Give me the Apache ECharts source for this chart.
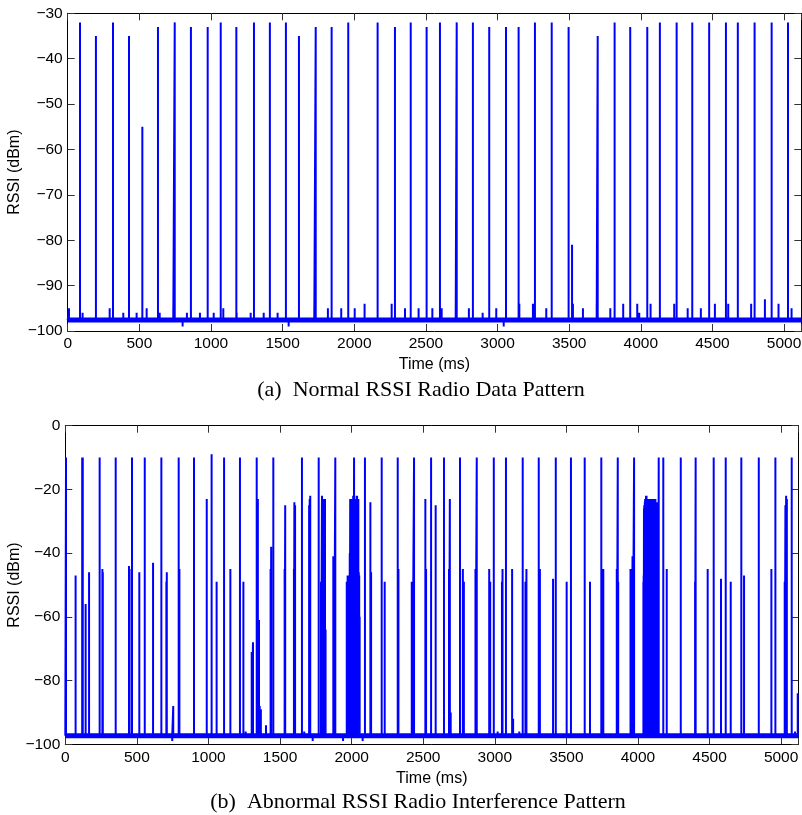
<!DOCTYPE html>
<html><head><meta charset="utf-8">
<script src="https://cdn.jsdelivr.net/npm/echarts@6/dist/echarts.min.js"></script>
<style>html,body{margin:0;padding:0;background:#fff}#c{width:802px;height:815px}</style>
</head><body><div id="c"></div>
<script>
// ---------- axes ----------
const xMax = 5120, xInterval = 500;
const yRangeA = [-100, -30], yIntervalA = 10;
const yRangeB = [-100, 0], yIntervalB = 20;
const xName = 'Time (ms)', yName = 'RSSI (dBm)';
const captionA = '(a)  Normal RSSI Radio Data Pattern';
const captionB = '(b)  Abnormal RSSI Radio Interference Pattern';

// noise floor (thick band) bounds
const bandA = [-97.0, -98.2];
const bandB = [-96.5, -98.1];

// ---------- (a) normal pattern ----------
const spikeTimesA = [86,197,316,428,521,630,747,860,977,1068,1177,1300,1411,1523,1614,1731,1842,1958,2163,2284,2394,2505,2598,2715,2828,2942,3059,3147,3261,3378,3496,3520,3699,3817,3926,4045,4133,4250,4359,4477,4594,4677,4794,4913,5027];
const spikePeaksA = [-32,-35,-32,-35,-55,-33,-32,-33,-33,-32,-33,-32,-32,-32,-35,-33,-33,-32,-32,-33,-32,-33,-32,-32,-32,-33,-33,-33,-32,-32,-33,-81,-35,-32,-33,-33,-32,-32,-32,-32,-32,-32,-32,-32,-32];
const blipTimesA = [9,104,293,388,481,551,642,737,802,832,923,1019,1086,1179,1277,1368,1465,1542,1721,1816,1909,2003,2072,2261,2354,2449,2545,2610,2708,2800,2896,2991,3043,3152,3247,3340,3526,3596,3692,3787,3877,3975,3989,4068,4233,4327,4419,4517,4610,4770,4866,4961,5052];
const blipPeaksA = [-95,-96,-95,-96,-96,-95,-96,-95,-99,-96,-96,-96,-95,-96,-96,-96,-96,-99,-95,-95,-95,-95,-94,-94,-95,-95,-95,-95,-95,-95,-96,-95,-99,-94,-94,-95,-94,-95,-94,-95,-94,-94,-96,-94,-94,-95,-95,-94,-94,-94,-93,-94,-95];

// ---------- (b) interference pattern ----------
const spikeTimesB = [5,72,118,122,142,166,240,259,262,352,445,449,466,517,555,613,671,706,709,747,754,792,797,899,988,1022,1057,1109,1153,1220,1244,1260,1302,1311,1337,1340,1345,1353,1358,1366,1402,1434,1438,1453,1532,1536,1597,1600,1605,1653,1669,1703,1707,1711,1728,1770,1786,1793,1800,1807,1814,1818,1872,1877,1886,1940,2077,2093,2131,2136,2210,2231,2322,2327,2420,2424,2436,2515,2520,2555,2587,2645,2680,2686,2692,2757,2777,2784,2865,2874,2961,2968,2993,3020,3050,3054,3078,3121,3128,3171,3195,3214,3221,3307,3315,3407,3426,3502,3532,3628,3665,3744,3758,3852,3859,3862,3948,3955,3962,3973,4145,4177,4201,4299,4399,4403,4487,4529,4580,4613,4648,4722,4741,4844,4932,4960,5025,5030,5035,5040,5074,5097,5116];
const spikePeaksB = [-10,-47,-10,-10,-56,-46,-10,-45,-46,-10,-44,-45,-10,-46,-10,-43,-10,-49,-46,-99,-88,-10,-45,-10,-23,-9,-49,-10,-45,-10,-49,-96,-71,-68,-10,-23,-23,-61,-88,-89,-94,-45,-38,-10,-45,-25,-45,-24,-25,-10,-96,-25,-23,-22,-99,-10,-49,-22,-23,-25,-23,-64,-41,-46,-10,-99,-99,-10,-24,-46,-10,-49,-10,-45,-49,-49,-10,-23,-45,-10,-25,-10,-45,-23,-90,-10,-45,-49,-45,-10,-45,-49,-10,-96,-49,-45,-10,-45,-92,-96,-10,-49,-45,-10,-45,-48,-10,-49,-10,-10,-49,-10,-45,-45,-10,-49,-45,-45,-41,-10,-10,-10,-45,-10,-49,-10,-45,-10,-48,-10,-49,-10,-47,-10,-45,-10,-49,-25,-22,-23,-10,-96,-84];
// dense interference bursts
const burst1TimesB = [1966,1969,1972,1975,1978,1981,1984,1987,1990,1993,1996,1999,2002,2005,2008,2011,2014,2017,2020,2023,2026,2029,2032,2035,2038,2041,2044,2047,2050,2053,2056];
const burst1PeaksB = [-49,-55,-47,-60,-47,-61,-50,-40,-23,-30,-38,-23,-23,-25,-23,-22,-35,-10,-23,-23,-40,-38,-23,-22,-22,-23,-25,-23,-46,-47,-60];
const burst2TimesB = [4038,4040,4042,4044,4046,4048,4050,4052,4054,4056,4058,4060,4062,4064,4066,4068,4070,4072,4074,4076,4078,4080,4082,4084,4086,4088,4090,4092,4094,4096,4098,4100,4102,4104,4106,4108,4110,4112,4114,4116,4118,4120,4122,4124,4126,4128,4130,4132,4134,4136,4138,4140,4142];
const burst2PeaksB = [-49,-47,-26,-25,-25,-24,-23,-23,-23,-22,-22,-22,-23,-23,-23,-23,-23,-23,-24,-25,-25,-25,-24,-23,-23,-23,-23,-23,-23,-23,-23,-23,-23,-23,-23,-23,-23,-23,-23,-23,-23,-23,-23,-24,-25,-25,-25,-24,-24,-24,-26,-30,-45];

function zip(a, b) { return a.map((t, i) => [t, b[i]]); }

// each reading drawn as a vertical stroke from the noise floor
function buildLine(base, readings) {
  const sorted = readings.slice().sort((a, b) => a[0] - b[0]);
  const data = [[0, base]];
  sorted.forEach(([t, v]) => { data.push([t, base]); data.push([t, v]); data.push([t, base]); });
  data.push([xMax, base]);
  return data;
}

const baseA = (bandA[0] + bandA[1]) / 2;
const baseB = (bandB[0] + bandB[1]) / 2;
const lineA = buildLine(baseA, zip(spikeTimesA, spikePeaksA).concat(zip(blipTimesA, blipPeaksA)));
const lineB = buildLine(baseB, zip(spikeTimesB, spikePeaksB)
  .concat(zip(burst1TimesB, burst1PeaksB), zip(burst2TimesB, burst2PeaksB)));

const BLUE = '#0000ff';
const tickFont = { fontFamily: 'Liberation Sans', fontSize: 15.5, color: '#000' };
const fmtY = v => v === 0 ? '0' : (v < 0 ? '\u2212' + Math.abs(v) : String(v));
const fmtX = v => (v % xInterval === 0 ? String(v) : '');

function xAxes(gi) {
  const common = { type: 'value', gridIndex: gi, min: 0, max: xMax, interval: xInterval, splitLine: { show: false },
    axisLine: { show: true, onZero: false, lineStyle: { color: '#000', width: 1 } },
    axisTick: { show: true, inside: true, length: 7, lineStyle: { color: '#333' } } };
  return [
    Object.assign({}, common, { position: 'bottom', name: xName, nameLocation: 'middle', nameGap: 26, nameMoveOverlap: false,
      nameTextStyle: { fontFamily: 'Liberation Sans', fontSize: 16, color: '#000' },
      axisLabel: Object.assign({ margin: 5, formatter: fmtX }, tickFont) }),
    Object.assign({}, common, { position: 'top', axisLabel: { show: false } })
  ];
}
function yAxes(gi, rng, itv, gap) {
  const common = { type: 'value', gridIndex: gi, min: rng[0], max: rng[1], interval: itv, splitLine: { show: false },
    axisLine: { show: true, onZero: false, lineStyle: { color: '#000', width: 1 } },
    axisTick: { show: true, inside: true, length: 7, lineStyle: { color: '#333' } } };
  return [
    Object.assign({}, common, { position: 'left', name: yName, nameLocation: 'middle', nameGap: gap, nameRotate: 90,
      nameMoveOverlap: false,
      nameTextStyle: { fontFamily: 'Liberation Sans', fontSize: 16, color: '#000' },
      axisLabel: Object.assign({ margin: 5, formatter: fmtY }, tickFont) }),
    Object.assign({}, common, { position: 'right', axisLabel: { show: false } })
  ];
}

function bandSeries(xi, yi, band) {
  const mid = (band[0] + band[1]) / 2;
  return { type: 'line', xAxisIndex: xi, yAxisIndex: yi, data: [[0, mid], [xMax, mid]], symbol: 'none', silent: true,
    lineStyle: { color: BLUE, width: 5 }, z: 2 };
}

const chart = echarts.init(document.getElementById('c'), null, { renderer: 'canvas' });
chart.setOption({
  animation: false,
  backgroundColor: '#fff',
  grid: [
    { left: 67.7, top: 13.3, width: 733.6, height: 317.7, containLabel: false, outerBoundsMode: 'none' },
    { left: 65.3, top: 425.7, width: 733, height: 318.6, containLabel: false, outerBoundsMode: 'none' }
  ],
  xAxis: xAxes(0).concat(xAxes(1)),
  yAxis: yAxes(0, yRangeA, yIntervalA, 45).concat(yAxes(1, yRangeB, yIntervalB, 43)),
  series: [
    bandSeries(0, 0, bandA),
    { type: 'line', xAxisIndex: 0, yAxisIndex: 0, data: lineA, symbol: 'none', showSymbol: false, silent: true,
      lineStyle: { color: BLUE, width: 2, join: 'bevel' }, z: 3 },
    bandSeries(2, 2, bandB),
    { type: 'line', xAxisIndex: 2, yAxisIndex: 2, data: lineB, symbol: 'none', showSymbol: false, silent: true,
      lineStyle: { color: BLUE, width: 2, join: 'bevel' }, z: 3 }
  ],
  graphic: [
    { type: 'text', x: 421, y: 390, silent: true,
      style: { text: captionA, font: '22px "Liberation Serif"', fill: '#000', textAlign: 'center', textVerticalAlign: 'middle' } },
    { type: 'text', x: 418, y: 802, silent: true,
      style: { text: captionB, font: '22px "Liberation Serif"', fill: '#000', textAlign: 'center', textVerticalAlign: 'middle' } }
  ]
});
</script>
</body></html>
